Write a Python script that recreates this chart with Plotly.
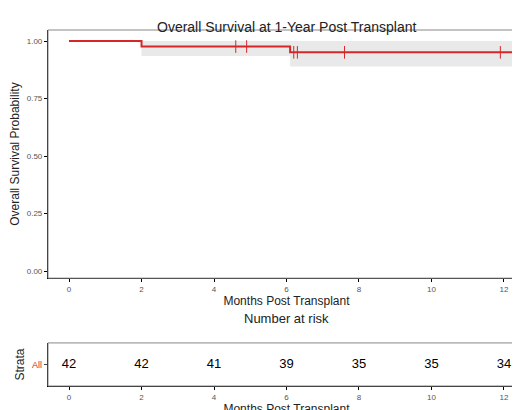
import plotly.graph_objects as go

step_t = [0, 2.0, 2.0, 6.1, 6.1, 12.6]
step_s = [1.0, 1.0, 0.976, 0.976, 0.951, 0.951]
ci_t = [2.0, 6.1, 6.1, 12.6]
ci_lo = [0.935, 0.935, 0.889, 0.889]
ci_hi = [1.0, 1.0, 1.0, 1.0]
cens_t = [4.6, 4.9, 6.2, 6.3, 7.6, 11.9]
cens_s = [0.976, 0.976, 0.951, 0.951, 0.951, 0.951]
risk_t = [0, 2, 4, 6, 8, 10, 12]
risk_n = [42, 42, 41, 39, 35, 35, 34]
xticks = [0, 2, 4, 6, 8, 10, 12]
yticks = [0, 0.25, 0.5, 0.75, 1.0]

red = "#d62728"
fig = go.Figure()
fig.add_trace(go.Scatter(x=ci_t + ci_t[::-1], y=ci_hi + ci_lo[::-1], fill="toself", mode="lines",
    fillcolor="rgba(200,200,200,0.4)", line=dict(width=0), hoverinfo="skip"))
fig.add_trace(go.Scatter(x=step_t, y=step_s, mode="lines", line=dict(color=red, width=2)))
fig.add_trace(go.Scatter(x=cens_t, y=cens_s, mode="markers",
    marker=dict(symbol="line-ns", size=9, line=dict(color=red, width=1))))
fig.add_trace(go.Scatter(x=risk_t, y=[0]*len(risk_t), text=[str(n) for n in risk_n], mode="text",
    textfont=dict(size=13, color="black"), xaxis="x2", yaxis="y2"))

tick = dict(showline=True, linecolor="black", linewidth=1.2, ticks="outside", ticklen=3,
            tickcolor="black", tickfont=dict(size=8, color="#555"), showgrid=False, zeroline=False,
            automargin=False)
fig.update_layout(
    width=520, height=410, margin=dict(l=40, r=3, t=22, b=32), showlegend=False,
    plot_bgcolor="white", paper_bgcolor="white", font=dict(family="Liberation Sans", color="#222"),
    xaxis=dict(domain=[0, 1], range=[-0.58, 12.58], tickvals=xticks, anchor="y", **tick,
               title=dict(text="Months Post Transplant", font=dict(size=12), standoff=2)),
    yaxis=dict(domain=[0.303, 1], range=[-0.03, 1.048], tickvals=yticks, tickformat=".2f", anchor="x", **tick,
               title=dict(text="Overall Survival Probability", font=dict(size=12), standoff=4)),
    xaxis2=dict(domain=[0, 1], range=[-0.58, 12.58], tickvals=xticks, anchor="y2", **tick,
                title=dict(text="Months Post Transplant", font=dict(size=12), standoff=2)),
    yaxis2=dict(domain=[0, 0.121], range=[-1, 1], tickvals=[0], ticktext=["All"], anchor="x2",
                showline=True, linecolor="black", linewidth=1.2, ticks="outside", ticklen=3,
                tickfont=dict(size=9, color=red), showgrid=False, zeroline=False, automargin=False,
                title=dict(text="Strata", font=dict(size=12), standoff=4)),
    annotations=[
        dict(text="Overall Survival at 1-Year Post Transplant", x=0.5, y=(378-9)/356, xref="paper", yref="paper",
             showarrow=False, font=dict(size=14)),
        dict(text="Number at risk", x=0.5, y=(378-320)/356, xref="paper", yref="paper",
             showarrow=False, font=dict(size=13)),
    ],
    shapes=[
        dict(type="rect", xref="paper", yref="paper", x0=0, x1=1, y0=0.303, y1=1,
             line=dict(color="#888", width=1)),
        dict(type="rect", xref="paper", yref="paper", x0=0, x1=1, y0=0, y1=0.121,
             line=dict(color="#888", width=1)),
    ],
)
fig.write_html("out.html")
